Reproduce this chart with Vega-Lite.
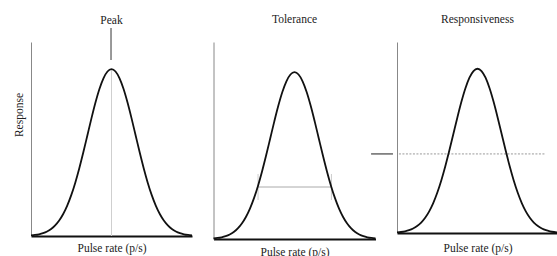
{
  "$schema": "https://vega.github.io/schema/vega-lite/v6.json",
  "padding": {"left": 13, "top": 13, "right": 0, "bottom": 0},
  "spacing": 21.5,
  "bounds": "flush",
  "config": {
    "view": {"stroke": null},
    "font": "Liberation Serif",
    "title": {"font": "Liberation Serif", "fontSize": 11.5, "fontWeight": "normal", "color": "#222", "frame": "group", "baseline": "alphabetic", "offset": 8, "anchor": "middle"},
    "axis": {"domain": true, "ticks": false, "labels": false, "grid": false, "titleFont": "Liberation Serif", "titleFontSize": 11.5, "titleFontWeight": "normal", "titleColor": "#222"},
    "axisX": {"domainColor": "#111", "domainWidth": 2, "titlePadding": 6},
    "axisY": {"domainColor": "#888", "domainWidth": 1}
  },
  "datasets": {
    "curve": [
      {"x": 0, "y": 0.31}, {"x": 2.5, "y": 0.53}, {"x": 5, "y": 0.9}, {"x": 7.5, "y": 1.47},
      {"x": 10, "y": 2.34}, {"x": 12.5, "y": 3.62}, {"x": 15, "y": 5.45}, {"x": 17.5, "y": 7.97},
      {"x": 20, "y": 11.33}, {"x": 22.5, "y": 15.66}, {"x": 25, "y": 21.05}, {"x": 27.5, "y": 27.5},
      {"x": 30, "y": 34.94}, {"x": 32.5, "y": 43.15}, {"x": 35, "y": 51.81}, {"x": 37.5, "y": 60.49},
      {"x": 40, "y": 68.66}, {"x": 42.5, "y": 75.77}, {"x": 45, "y": 81.29}, {"x": 47.5, "y": 84.8},
      {"x": 50, "y": 86},
      {"x": 52.5, "y": 84.8}, {"x": 55, "y": 81.29}, {"x": 57.5, "y": 75.77}, {"x": 60, "y": 68.66},
      {"x": 62.5, "y": 60.49}, {"x": 65, "y": 51.81}, {"x": 67.5, "y": 43.15}, {"x": 70, "y": 34.94},
      {"x": 72.5, "y": 27.5}, {"x": 75, "y": 21.05}, {"x": 77.5, "y": 15.66}, {"x": 80, "y": 11.33},
      {"x": 82.5, "y": 7.97}, {"x": 85, "y": 5.45}, {"x": 87.5, "y": 3.62}, {"x": 90, "y": 2.34},
      {"x": 92.5, "y": 1.47}, {"x": 95, "y": 0.9}, {"x": 97.5, "y": 0.53}, {"x": 100, "y": 0.31}
    ]
  },
  "hconcat": [
    {
      "width": 161, "height": 194,
      "title": {"text": "Peak", "frame": "group", "offset": -8, "baseline": "alphabetic"},
      "encoding": {
        "x": {"field": "x", "type": "quantitative", "scale": {"domain": [0, 100], "nice": false, "zero": false}, "axis": {"title": "Pulse rate (p/s)"}},
        "y": {"field": "y", "type": "quantitative", "scale": {"domain": [0, 100], "nice": false}, "axis": {"title": "Response", "titlePadding": 7, "titleY": 72.5}}
      },
      "layer": [
        {
          "data": {"values": [{"x": 50, "y": 0, "y2": 86}]},
          "mark": {"type": "rule", "color": "#cfcfcf", "strokeWidth": 1},
          "encoding": {"y2": {"field": "y2"}}
        },
        {
          "data": {"values": [{"x": 49.7, "y": 107.2, "y2": 90.7}]},
          "mark": {"type": "rule", "color": "#555", "strokeWidth": 1.2},
          "encoding": {"y2": {"field": "y2"}}
        },
        {
          "data": {"name": "curve"},
          "mark": {"type": "line", "color": "#111", "strokeWidth": 1.8, "interpolate": "monotone"},
          "encoding": {}
        }
      ]
    },
    {
      "width": 162, "height": 197,
      "title": {"text": "Tolerance", "frame": "group", "offset": 8, "baseline": "alphabetic"},
      "encoding": {
        "x": {"field": "x", "type": "quantitative", "scale": {"domain": [0, 100], "nice": false, "zero": false}, "axis": {"title": "Pulse rate (p/s)", "titlePadding": 7}},
        "y": {"field": "y", "type": "quantitative", "scale": {"domain": [0, 101.55], "nice": false}, "axis": {"title": null}}
      },
      "layer": [
        {
          "data": {"values": [{"x": 27.5, "x2": 72.8, "y": 26.8}]},
          "mark": {"type": "rule", "color": "#aaa", "strokeWidth": 1},
          "encoding": {"x2": {"field": "x2"}}
        },
        {
          "data": {"values": [{"x": 27.5, "y": 20.1, "y2": 33.5}, {"x": 72.8, "y": 20.1, "y2": 33.5}]},
          "mark": {"type": "rule", "color": "#ccc", "strokeWidth": 1},
          "encoding": {"y2": {"field": "y2"}}
        },
        {
          "data": {"name": "curve"},
          "mark": {"type": "line", "color": "#111", "strokeWidth": 1.8, "interpolate": "monotone"},
          "encoding": {}
        }
      ]
    },
    {
      "width": 161, "height": 191,
      "title": {"text": "Responsiveness", "frame": "group", "offset": 8, "baseline": "alphabetic"},
      "encoding": {
        "x": {"field": "x", "type": "quantitative", "scale": {"domain": [0, 100], "nice": false, "zero": false}, "axis": {"title": "Pulse rate (p/s)", "titlePadding": 9}},
        "y": {"field": "y", "type": "quantitative", "scale": {"domain": [0, 100], "nice": false}, "axis": {"title": null}}
      },
      "layer": [
        {
          "data": {"values": [{"x": 1.2, "x2": 91.9, "y": 41.4}]},
          "mark": {"type": "rule", "color": "#999", "strokeWidth": 1, "strokeDash": [2, 1.5]},
          "encoding": {"x2": {"field": "x2"}}
        },
        {
          "data": {"values": [{"x": -16.1, "x2": -2.5, "y": 41.4}]},
          "mark": {"type": "rule", "color": "#444", "strokeWidth": 1.2},
          "encoding": {"x2": {"field": "x2"}}
        },
        {
          "data": {"name": "curve"},
          "mark": {"type": "line", "color": "#111", "strokeWidth": 1.8, "interpolate": "monotone"},
          "encoding": {}
        }
      ]
    }
  ]
}
